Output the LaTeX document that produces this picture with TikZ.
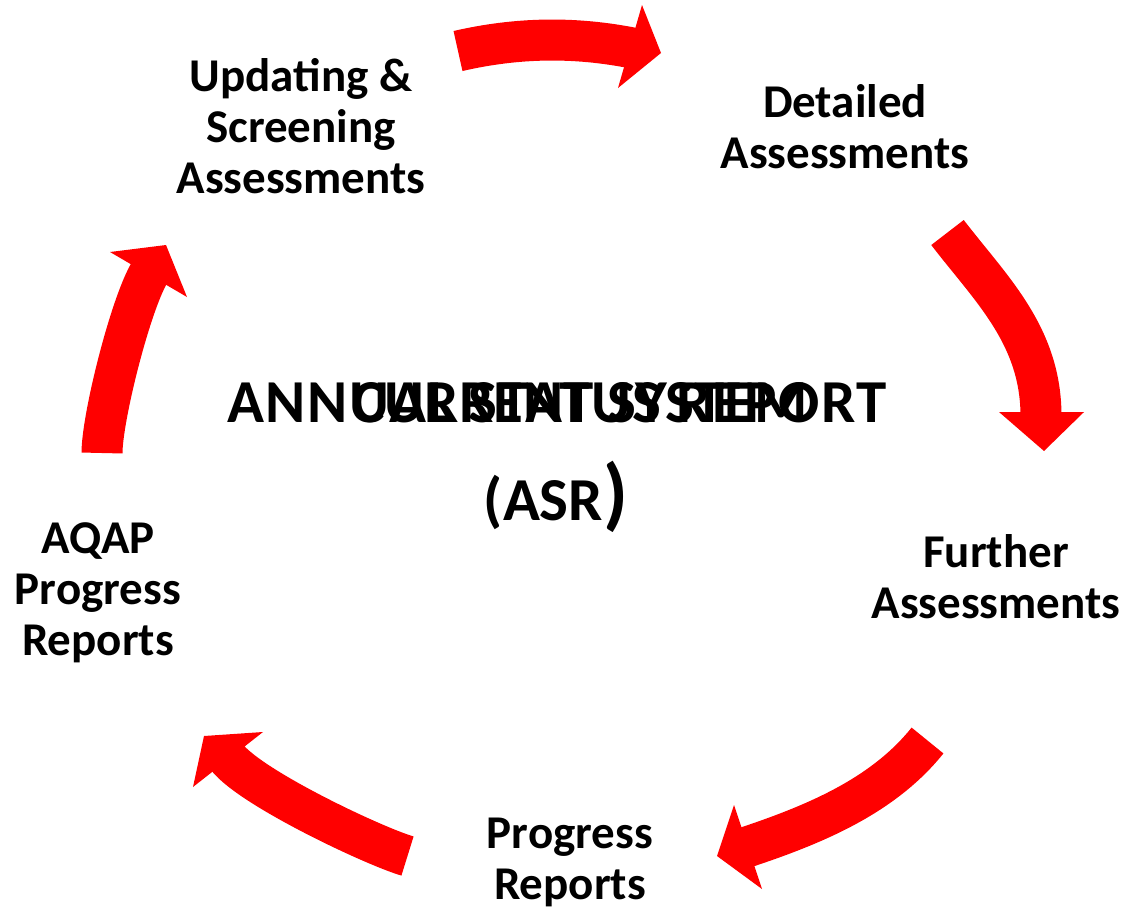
\documentclass[tikz,border=0pt]{standalone}
\usepackage{fontspec}
\setmainfont{Carlito}
\begin{document}
\begin{tikzpicture}[x=1pt,y=-1pt,
  lbl/.style={font=\fontsize{47}{51}\selectfont\bfseries, align=center, inner sep=0pt},
  ctr/.style={font=\fontsize{61}{61}\selectfont\bfseries, inner sep=0pt, anchor=base},
  shaft/.style={draw=red, line width=41pt},
  head/.style={fill=red}]
\useasboundingbox (0,0) rectangle (1127,911);

% labels
\node[lbl] (upd) at (301,126) {Updating \&\\Screening\\Assessments};
\node[lbl] (det) at (845,127) {Detailed\\Assessments};
\node[lbl] (fur) at (996,577) {Further\\Assessments};
\node[lbl] (pro) at (570,862) {Progress\\Reports};
\node[lbl] (aqap) at (98,593) {AQAP\\Progress\\Reports};

% centre texts
\node[ctr] (annual) at (557,422) {\addfontfeatures{LetterSpace=2.6}ANNUAL STATUS REPORT};
\node[ctr] (current) at (580,422) {CURRENT SYSTEM};
\node[ctr] (asr) at (556,520) {(ASR{\fontsize{80}{80}\selectfont)}};

% arrow 1 (top)
\coordinate (a1s) at (458,51);
\coordinate (a1e) at (634,48.3);
\draw[shaft] (a1s) .. controls (516.7,37.5) and (574,36.3) .. (a1e);
\fill[head] (642,5) -- (661,53) -- (618,88) -- cycle;

% arrow 2 (right upper)
\coordinate (a2s) at (947.5,232.5);
\coordinate (a2e) at (1041,416);
\draw[shaft] (a2s) .. controls (990,288) and (1041,335) .. (a2e);
\fill[head] (999,412) -- (1044,451) -- (1084,412) -- cycle;

% arrow 3 (bottom right)
\coordinate (a3s) at (927.5,740.5);
\coordinate (a3e) at (746,847.3);
\draw[shaft] (a3s) .. controls (883.5,795.5) and (816,824) .. (a3e);
\fill[head] (734,805) -- (717,856) -- (762,889) -- cycle;

% arrow 4 (bottom left)
\coordinate (a4s) at (407.5,856);
\coordinate (a4e) at (227,757.3);
\draw[shaft] (a4s) .. controls (373.9,846.2) and (251.2,788.2) .. (a4e);
\fill[head] (263,732) -- (204,736) -- (193,787) -- cycle;

% arrow 5 (left)
\coordinate (a5s) at (102,453);
\coordinate (a5e) at (149.5,272.6);
\draw[shaft] (a5s) .. controls (102,418) and (130,306) .. (a5e);
\fill[head] (110,252) -- (166,245) -- (187,297) -- cycle;
\end{tikzpicture}
\end{document}
